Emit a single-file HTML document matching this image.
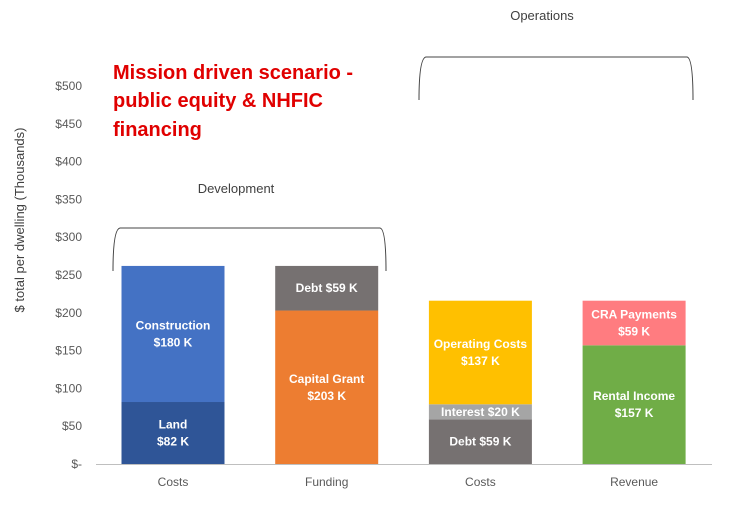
<!DOCTYPE html>
<html><head><meta charset="utf-8"><style>
body{margin:0;background:#fff;}
svg text{font-family:"Liberation Sans",Calibri,sans-serif;}
</style></head><body>
<svg id="chart" width="754" height="518" xmlns="http://www.w3.org/2000/svg">
<g id="axis"></g>
<g id="bars"></g>
<path d="M113,271 Q113,229 120,228 L380,228 Q386,229 386,271" fill="none" stroke="#444" stroke-width="1"/>
<text x="236" y="193" font-size="13" fill="#404040" text-anchor="middle">Development</text>
<path d="M419,100 Q419,58 426,57 L687,57 Q693,58 693,100" fill="none" stroke="#444" stroke-width="1"/>
<text x="542" y="20" font-size="13" fill="#404040" text-anchor="middle">Operations</text>
<g fill="#e00000" font-size="20" font-weight="bold">
<text x="113" y="79">Mission driven scenario -</text>
<text x="113" y="107">public equity &amp; NHFIC</text>
<text x="113" y="136">financing</text>
</g>
<text transform="translate(24,220) rotate(-90)" font-size="13" fill="#404040" text-anchor="middle">$ total per dwelling (Thousands)</text>
</svg>
<script>
const categories=["Costs","Funding","Costs","Revenue"];
const seg0=[82,203,59,157];
const seg1=[180,59,20,59];
const seg2=[0,0,137,0];
const labels0=["Land|$82 K","Capital Grant|$203 K","Debt  $59 K","Rental Income|$157 K"];
const labels1=["Construction|$180 K","Debt  $59 K","Interest  $20 K","CRA Payments|$59 K"];
const labels2=["","","Operating Costs|$137 K",""];
const colors0=["#2f5597","#ed7d31","#767171","#70ad47"];
const colors1=["#4472c4","#767171","#a5a5a5","#ff7c80"];
const colors2=["","","#ffc000",""];
const ticks=[0,50,100,150,200,250,300,350,400,450,500];
const NS="http://www.w3.org/2000/svg";
const y0=464,yTop=86,vmax=500;
function y(v){return y0-(y0-yTop)*v/vmax;}
function xc(i){return 173+i*153.7;}
const bw=103;
const ax=document.getElementById('axis'),bars=document.getElementById('bars');
function mk(tag,attrs,parent){const e=document.createElementNS(NS,tag);for(const k in attrs)e.setAttribute(k,attrs[k]);parent.appendChild(e);return e;}
ticks.forEach(t=>{
 const tx=mk('text',{x:82,y:y(t)+4,'font-size':12,fill:'#595959','text-anchor':'end'},ax);
 tx.textContent=t===0?"$-":"$"+t;
 
 
});
const al=mk('line',{x1:96,x2:712,y1:y0+0.5,y2:y0+0.5,stroke:'#bfbfbf'},ax);


categories.forEach((c,i)=>{
 const t=mk('text',{x:xc(i),y:486,'font-size':12,fill:'#595959','text-anchor':'middle'},ax);
 t.textContent=c;
 
 
 let base=0;
 [[seg0,labels0,colors0],[seg1,labels1,colors1],[seg2,labels2,colors2]].forEach((s,k)=>{
  const v=s[0][i];if(!v)return;
  const r=mk('rect',{x:xc(i)-bw/2,y:y(base+v),width:bw,height:y(base)-y(base+v),fill:s[2][i]},bars);
  
  
  const lines=s[1][i].split('|');
  const mid=(y(base)+y(base+v))/2;
  lines.forEach((ln,j)=>{
   const tt=mk('text',{x:xc(i),y:mid+4+(j-(lines.length-1)/2)*17,'font-size':12,'font-weight':'bold',fill:'#fff','text-anchor':'middle'},bars);
   tt.textContent=ln;
   
   
  });
  base+=v;
 });
});
</script>
</body></html>
